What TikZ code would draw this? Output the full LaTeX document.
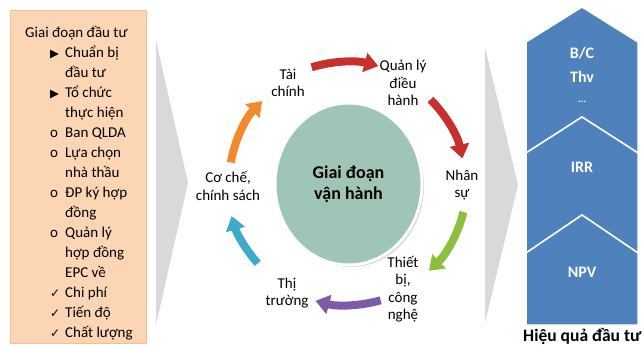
\documentclass[tikz,border=0pt]{standalone}
\usepackage{fontspec}
\setmainfont{Carlito}
\newfontfamily\symfont{DejaVu Sans}
\definecolor{planfill}{HTML}{FCD5B4}
\definecolor{planedge}{HTML}{F9BF8F}
\definecolor{chevgray}{HTML}{D9D9D9}
\definecolor{hubgreen}{HTML}{9FC5B6}
\definecolor{effblue}{HTML}{4F81BD}
\definecolor{arrred}{HTML}{C8302E}
\definecolor{arrgreen}{HTML}{8DBF3F}
\definecolor{arrpurple}{HTML}{7D5BA6}
\definecolor{arrcyan}{HTML}{3FA9C9}
\definecolor{arrorange}{HTML}{F08A2C}
\usetikzlibrary{arrows.meta, shapes.geometric, shadows}
\newcommand{\itm}[2]{\hspace*{25pt}\makebox[15pt][l]{#1}#2}
\newcommand{\cont}[1]{\hspace*{40pt}#1}
\newcommand{\tri}{{\symfont\fontsize{11.5}{11.5}\selectfont ▶}}
\newcommand{\tick}{{\symfont\fontsize{12}{12}\selectfont ✓}}
\tikzset{
	planbox/.style={rectangle, draw=planedge, fill=planfill, line width=1pt},
	listtext/.style={align=left, inner sep=0pt, font=\fontsize{15}{20}\selectfont},
	steplabel/.style={align=center, inner sep=0pt, font=\fontsize{15}{17.5}\selectfont},
	hub/.style={ellipse, fill=hubgreen, draw=white, line width=3pt, minimum width=147pt, minimum height=162pt, inner sep=0pt, align=center, font=\bfseries\fontsize{18}{21}\selectfont, drop shadow={shadow xshift=2pt, shadow yshift=-2pt, opacity=0.35}},
	cyclearrow/.style={-{Triangle[length=14pt,width=19pt]}, line width=8pt},
	chevron/.style={fill=chevgray, draw=none},
	effpart/.style={fill=effblue, draw=white, line width=1.5pt},
	efftext/.style={text=white, inner sep=0pt, font=\bfseries\fontsize{16}{18}\selectfont},
}

\begin{document}
\begin{tikzpicture}[x=1pt, y=1pt]
	\useasboundingbox (0,0) rectangle (644,346);
	% investment stage
	\draw[planbox] (10,3) rectangle (146,335);
	\node[listtext, anchor=north west] (invest) at (25,320) {Giai đoạn đầu tư\\
		\itm{\tri}{Chuẩn bị}\\ \cont{đầu tư}\\
		\itm{\tri}{Tổ chức}\\ \cont{thực hiện}\\
		\itm{o}{Ban QLDA}\\
		\itm{o}{Lựa chọn}\\ \cont{nhà thầu}\\
		\itm{o}{ĐP ký hợp}\\ \cont{đồng}\\
		\itm{o}{Quản lý}\\ \cont{hợp đồng}\\ \cont{EPC về}\\
		\itm{\tick}{Chi phí}\\
		\itm{\tick}{Tiến độ}\\
		\itm{\tick}{Chất lượng}};
	% chevrons
	\fill[chevron] (156,306) -- (188,163) -- (156,21) -- cycle;
	\fill[chevron] (485,299) -- (518,161) -- (485,23) -- cycle;
	% operation cycle
	\node[hub] (hub) at (348.5,162) {Giai đoạn\\vận hành};
	\coordinate (ring) at (347,163);
	\node[steplabel] (finance) at (288,263) {Tài\\chính};
	\node[steplabel] (manage) at (403,263) {Quản lý\\điều\\hành};
	\node[steplabel] (staff) at (462,161) {Nhân\\sự};
	\node[steplabel] (tech) at (403,57) {Thiết\\bị,\\công\\nghệ};
	\node[steplabel] (market) at (287,53) {Thị\\trường};
	\node[steplabel] (policy) at (228,160) {Cơ chế,\\chính sách};
	\draw[cyclearrow, draw=arrred] (ring) ++(107:121) arc[start angle=107, end angle=75, radius=121];
	\draw[cyclearrow, draw=arrred] (ring) ++(45:118) arc[start angle=45, end angle=12, radius=118];
	\draw[cyclearrow, draw=arrgreen] (ring) ++(-14:120) arc[start angle=-14, end angle=-47, radius=120];
	\draw[cyclearrow, draw=arrpurple] (ring) ++(-74:122) arc[start angle=-74, end angle=-105, radius=122];
	\draw[cyclearrow, draw=arrcyan] (ring) ++(-138:120) arc[start angle=-138, end angle=-164, radius=120];
	\draw[cyclearrow, draw=arrorange] (ring) ++(170:118) arc[start angle=170, end angle=136, radius=118];
	% efficiency
	\draw[effpart] (526,304) -- (582,339) -- (638,304) -- (638,193) -- (582,229) -- (526,193) -- cycle;
	\draw[effpart] (526,193) -- (582,229) -- (638,193) -- (638,93) -- (582,131) -- (526,93) -- cycle;
	\draw[effpart] (526,93) -- (582,131) -- (638,93) -- (638,21) -- (526,21) -- cycle;
	\node[efftext] (bc) at (582,293) {B/C};
	\node[efftext] (thv) at (582,269) {Thv};
	\node[efftext, font=\bfseries\fontsize{10}{12}\selectfont] (dots) at (582,244) {...};
	\node[efftext] (irr) at (582,179) {IRR};
	\node[efftext] (npv) at (582,74) {NPV};
	\node[anchor=base west, inner sep=0pt, font=\bfseries\fontsize{17.5}{20}\selectfont] (effcap) at (523,5) {Hiệu quả đầu tư};
\end{tikzpicture}
\end{document}
